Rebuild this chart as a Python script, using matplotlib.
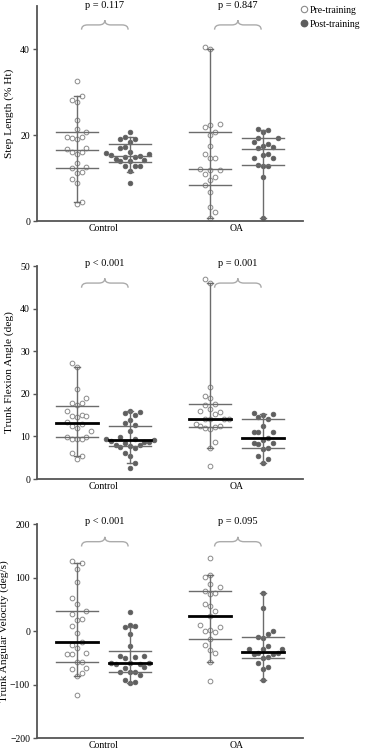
"""
Pre/post training dot plots (Control vs OA) for step length, trunk flexion
angle and trunk angular velocity, with median/IQR lines and p-value braces.
"""

import matplotlib
matplotlib.use('Agg')
import matplotlib.pyplot as plt
from matplotlib.lines import Line2D
from matplotlib.path import Path
from matplotlib.patches import PathPatch
import numpy as np

plt.rcParams['font.family'] = ['Liberation Serif', 'DejaVu Serif']

GROUPS = ['Control', 'OA']

# ---- Step length (% Ht) ----
step_ctrl_pre = [32.5, 27.7, 28.1, 29.0, 23.5, 21.3, 20.8, 19.6, 19.6, 19.0, 19.4, 16.9,
                 16.1, 16.7, 16.0, 15.7, 13.5, 12.6, 12.3, 11.5, 11.1, 9.7, 8.9, 4.5, 3.9]
step_ctrl_post = [20.8, 19.1, 19.5, 19.0, 18.4, 17.3, 16.9, 16.1, 15.2, 14.0, 14.0, 14.2,
                  15.4, 15.7, 15.9, 14.9, 14.9, 14.5, 12.8, 12.8, 12.9, 11.6, 8.8]
step_oa_pre = [40.0, 40.4, 22.3, 21.8, 22.5, 20.6, 20.0, 17.5, 15.5, 14.6, 14.7, 12.2,
               11.9, 10.9, 11.9, 10.3, 9.5, 8.4, 6.8, 3.3, 2.0, 0.6]
step_oa_post = [20.8, 21.2, 21.3, 19.2, 19.2, 18.3, 17.8, 17.2, 17.5, 16.9, 15.6, 15.3,
                14.6, 14.6, 13.1, 12.9, 12.9, 10.3, 0.6]
# whisker low, Q1, median, Q3, whisker high
step_ctrl_pre_box = [4.5, 12.4, 16.6, 20.8, 29.0]
step_ctrl_post_box = [11.5, 13.8, 15.1, 17.8, 19.5]
step_oa_pre_box = [0.6, 8.4, 12.2, 20.6, 40.0]
step_oa_post_box = [0.6, 13.1, 16.7, 19.2, 21.2]
step_pvals = ['p = 0.117', 'p = 0.847']

# ---- Trunk flexion angle (deg) ----
flex_ctrl_pre = [26.4, 27.2, 21.1, 19.1, 17.8, 17.9, 17.3, 16.0, 14.5, 14.7, 15.0, 14.8,
                 12.4, 12.8, 13.3, 12.0, 11.2, 9.9, 9.4, 9.8, 9.5, 9.5, 5.4, 4.7, 6.0]
flex_ctrl_post = [15.8, 16.0, 15.6, 15.0, 13.8, 12.7, 13.1, 11.3, 9.9, 9.3, 8.9, 8.6,
                  8.8, 9.5, 9.2, 8.4, 8.0, 7.6, 7.8, 7.9, 7.3, 6.0, 5.5, 3.7, 2.7]
flex_oa_pre = [46.9, 45.9, 21.5, 19.6, 19.1, 17.6, 17.4, 16.4, 15.7, 15.3, 16.0, 14.2,
               14.2, 14.2, 14.2, 11.9, 12.5, 12.5, 12.3, 12.9, 11.7, 8.6, 7.4, 3.0]
flex_oa_post = [14.6, 14.2, 15.3, 15.0, 15.6, 12.5, 11.0, 11.1, 11.0, 9.2, 9.6, 8.2,
                8.4, 8.4, 7.3, 7.0, 5.5, 4.7, 3.7]
flex_ctrl_pre_box = [5.4, 9.9, 13.2, 17.1, 26.2]
flex_ctrl_post_box = [3.7, 7.7, 9.2, 12.4, 16.0]
flex_oa_pre_box = [7.4, 12.3, 14.2, 17.6, 45.9]
flex_oa_post_box = [3.7, 7.3, 9.6, 14.2, 15.3]
flex_pvals = ['p < 0.001', 'p = 0.001']

# ---- Trunk angular velocity (deg/s) ----
vel_ctrl_pre = [130.8, 127.7, 116.5, 92, 62, 50, 36.8, 31.8, 22.4, 20.6, 9.3, -3.2, -21,
                -25.6, -31.8, -43, -41.7, -43, -57, -58, -71, -69, -79, -83.5, -120]
vel_ctrl_post = [35, 11, 8, 9, -6, -28.6, -46, -48, -47, -51, -66.5, -61.7, -60.4, -59,
                 -60.4, -61.7, -68.6, -82, -76.6, -76.6, -76.6, -91.6, -98, -95]
vel_oa_pre = [136, 101.5, 105.2, 87.3, 82.8, 74.8, 68.6, 70.5, 46.7, 49.9, 37.4, 28, 8,
              11.2, 0, 1.9, -1.3, -15, -26, -35.5, -41.7, -57, -93]
vel_oa_post = [70.5, 43, 0.5, -5.6, -12.5, -11.8, -27.5, -34, -34, -34, -43, -43.6,
               -41.7, -48, -40.6, -51, -59, -66.7, -70.4, -91.6]
vel_ctrl_pre_box = [-83.5, -57, -21, 36.8, 127.7]
vel_ctrl_post_box = [-96.6, -76.6, -60.4, -38, 8]
vel_oa_pre_box = [-57, -15, 28, 74.8, 105]
vel_oa_post_box = [-91.6, -51, -38.6, -11.8, 70.5]
vel_pvals = ['p < 0.001', 'p = 0.095']

PRE_EDGE = '#8a8a8a'
POST_COLOR = '#5e5e5e'
LINE_COLOR = '#6c6c6c'
SPINE_COLOR = '#555555'
BRACE_COLOR = '#ababab'
OFFSET = 0.2       # pre/post shift from group centre
HALF_W = 0.16      # half width of quartile lines
COL_PX = 4.8       # spacing of swarm columns in pixels
GAP_PX = 9.0       # min vertical gap between dots sharing a column


def swarm_x(ax, x0, values):
    """Greedy column swarm: nearest column with enough vertical room."""
    trans = ax.transData
    pts = trans.transform(np.column_stack([np.full(len(values), x0), values]))
    cx = pts[0, 0]
    ys = pts[:, 1]
    cols = np.zeros(len(values), dtype=int)
    used = {}
    flip = 1
    for i in np.argsort(ys):
        y = ys[i]
        k = 0
        while True:
            cands = [0] if k == 0 else [flip * k, -flip * k]
            hit = None
            for c in cands:
                if all(abs(y - yy) >= GAP_PX for yy in used.get(c, [])):
                    hit = c
                    break
            if hit is not None:
                cols[i] = hit
                used.setdefault(hit, []).append(y)
                if k > 0:
                    flip = -flip
                break
            k += 1
    xs = cx + cols * COL_PX
    return trans.inverted().transform(np.column_stack([xs, ys]))[:, 0]


def draw_summary(ax, x, box, median_black):
    lo, q1, med, q3, hi = box
    ax.plot([x, x], [lo, hi], color=LINE_COLOR, lw=1, zorder=3)
    for v in (lo, hi):
        ax.plot([x - 0.02, x + 0.02], [v, v], color=LINE_COLOR, lw=1, zorder=3)
    for v in (q1, q3):
        ax.plot([x - HALF_W, x + HALF_W], [v, v], color=LINE_COLOR, lw=1, zorder=3)
    if median_black:
        ax.plot([x - HALF_W, x + HALF_W], [med, med], color='black', lw=2, zorder=4)
    else:
        ax.plot([x - HALF_W, x + HALF_W], [med, med], color=LINE_COLOR, lw=1, zorder=3)


def draw_brace(ax, x0, x1, y, h):
    xm = (x0 + x1) / 2
    w = 0.045
    verts = [(x0, y - h), (x0, y), (x0 + w, y),
             (xm - w, y), (xm, y), (xm, y + h),
             (xm, y), (xm + w, y),
             (x1 - w, y), (x1, y), (x1, y - h)]
    codes = [Path.MOVETO, Path.CURVE3, Path.CURVE3,
             Path.LINETO, Path.CURVE3, Path.CURVE3,
             Path.CURVE3, Path.CURVE3,
             Path.LINETO, Path.CURVE3, Path.CURVE3]
    ax.add_patch(PathPatch(Path(verts, codes), facecolor='none',
                           edgecolor=BRACE_COLOR, lw=1, clip_on=False))


def make_panel(ax, data, boxes, pvals, ylabel, ylim, yticks, brace_y, brace_h,
               text_y, median_black, label_x):
    ax.set_xlim(-0.5, 1.5)
    ax.set_ylim(*ylim)
    ax.set_yticks(yticks)
    ax.set_xticks([0, 1])
    ax.set_xticklabels(GROUPS, fontsize=7)
    ax.tick_params(axis='x', length=0, pad=2)
    ax.tick_params(axis='y', labelsize=7, length=3, width=1, color=SPINE_COLOR, pad=2)
    for side in ('top', 'right'):
        ax.spines[side].set_visible(False)
    for side in ('left', 'bottom'):
        ax.spines[side].set_color(SPINE_COLOR)
        ax.spines[side].set_linewidth(1.3)
    ax.set_ylabel(ylabel, fontsize=8.2)
    ax.yaxis.set_label_coords(label_x, 0.5)

    for g in range(2):
        pre, post = data[g]
        xp = swarm_x(ax, g - OFFSET, pre)
        ax.plot(xp, pre, 'o', ms=3.4, mfc='white', mec=PRE_EDGE, mew=0.7,
                ls='none', zorder=2, clip_on=False)
        xq = swarm_x(ax, g + OFFSET, post)
        ax.plot(xq, post, 'o', ms=3.4, mfc=POST_COLOR, mec=POST_COLOR, mew=0.5,
                ls='none', zorder=2, clip_on=False)
        draw_summary(ax, g - OFFSET, boxes[g][0], median_black)
        draw_summary(ax, g + OFFSET, boxes[g][1], median_black)
        draw_brace(ax, g - 0.165, g + 0.185, brace_y, brace_h)
        ax.text(g + 0.01, text_y, pvals[g], ha='center', va='center', fontsize=7.5,
                clip_on=False)


fig = plt.figure(figsize=(3.66, 7.5), dpi=100)
ax1 = fig.add_axes([0.101, 0.7053, 0.727, 0.2867])
ax2 = fig.add_axes([0.101, 0.3613, 0.727, 0.2840])
ax3 = fig.add_axes([0.101, 0.0160, 0.727, 0.2853])

make_panel(ax1,
           [(step_ctrl_pre, step_ctrl_post), (step_oa_pre, step_oa_post)],
           [(step_ctrl_pre_box, step_ctrl_post_box), (step_oa_pre_box, step_oa_post_box)],
           step_pvals, 'Step Length (% Ht)', (0, 50), [0, 20, 40],
           45.6, 1.1, 50.0, False, -0.085)
make_panel(ax2,
           [(flex_ctrl_pre, flex_ctrl_post), (flex_oa_pre, flex_oa_post)],
           [(flex_ctrl_pre_box, flex_ctrl_post_box), (flex_oa_pre_box, flex_oa_post_box)],
           flex_pvals, 'Trunk Flexion Angle (deg)', (0, 50), [0, 10, 20, 30, 40, 50],
           46.0, 1.1, 50.7, True, -0.085)
make_panel(ax3,
           [(vel_ctrl_pre, vel_ctrl_post), (vel_oa_pre, vel_oa_post)],
           [(vel_ctrl_pre_box, vel_ctrl_post_box), (vel_oa_pre_box, vel_oa_post_box)],
           vel_pvals, 'Trunk Angular Velocity (deg/s)', (-200, 200),
           [-200, -100, 0, 100, 200], 167, 9, 204, True, -0.104)

handles = [
    Line2D([], [], marker='o', ls='none', ms=4.6, mfc='white', mec=PRE_EDGE, mew=0.8),
    Line2D([], [], marker='o', ls='none', ms=4.6, mfc=POST_COLOR, mec=POST_COLOR),
]
fig.legend(handles, ['Pre-training', 'Post-training'], loc='upper left',
           bbox_to_anchor=(0.815, 0.995), frameon=False, fontsize=7,
           handlelength=0.7, handletextpad=0.25, labelspacing=0.5, borderpad=0.2,
           borderaxespad=0)

fig.savefig('out.png', dpi=100)
plt.close(fig)
